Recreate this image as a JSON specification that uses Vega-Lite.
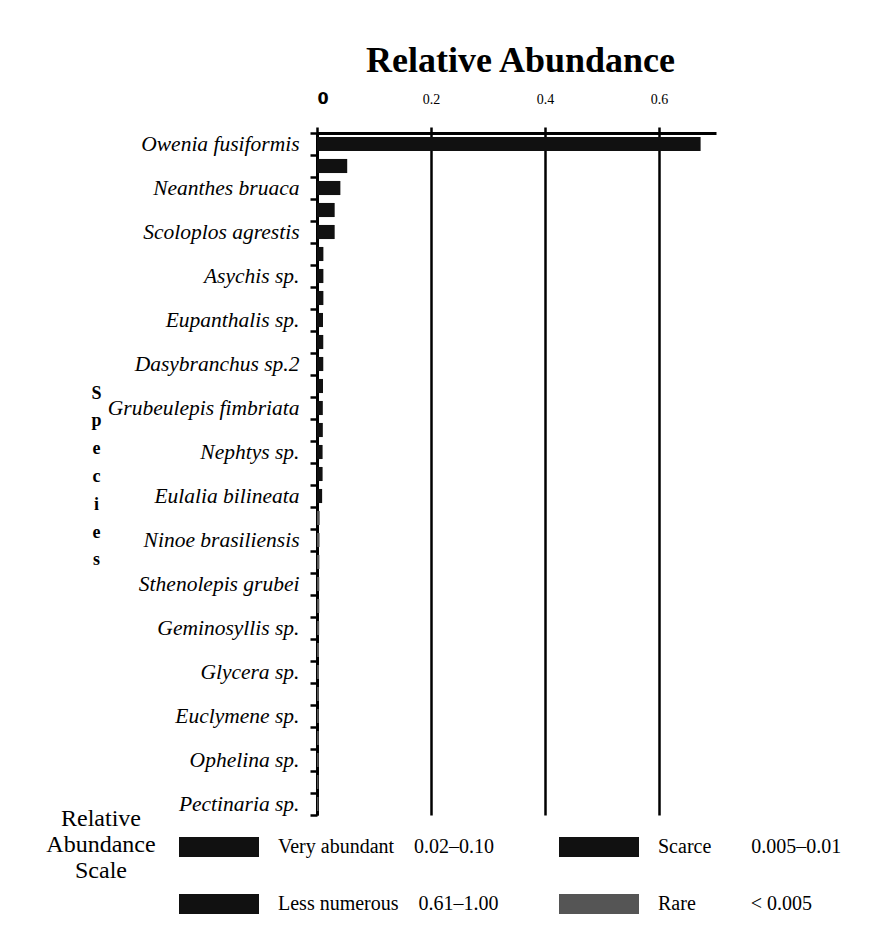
{
  "$schema": "https://vega.github.io/schema/vega-lite/v6.json",
  "autosize": {"type": "none"},
  "width": 399,
  "height": 682,
  "padding": {"left": 317, "top": 133, "right": 173, "bottom": 118},
  "background": "white",
  "title": {
    "text": "Relative Abundance",
    "font": "Liberation Serif",
    "fontSize": 36,
    "fontWeight": "bold",
    "color": "#000",
    "anchor": "middle",
    "dx": 4,
    "dy": 34,
    "baseline": "alphabetic",
    "offset": 16
  },
  "data": {
    "values": [
      {"rank": 1, "species": "Owenia fusiformis", "abundance": 0.673, "class": "Less numerous"},
      {"rank": 2, "species": " ", "abundance": 0.053, "class": "Very abundant"},
      {"rank": 3, "species": "Neanthes bruaca", "abundance": 0.041, "class": "Very abundant"},
      {"rank": 4, "species": "  ", "abundance": 0.031, "class": "Very abundant"},
      {"rank": 5, "species": "Scoloplos agrestis", "abundance": 0.031, "class": "Very abundant"},
      {"rank": 6, "species": "   ", "abundance": 0.0112, "class": "Scarce"},
      {"rank": 7, "species": "Asychis sp.", "abundance": 0.0112, "class": "Scarce"},
      {"rank": 8, "species": "    ", "abundance": 0.0112, "class": "Scarce"},
      {"rank": 9, "species": "Eupanthalis sp.", "abundance": 0.0105, "class": "Scarce"},
      {"rank": 10, "species": "     ", "abundance": 0.011, "class": "Scarce"},
      {"rank": 11, "species": "Dasybranchus sp.2", "abundance": 0.011, "class": "Scarce"},
      {"rank": 12, "species": "      ", "abundance": 0.0105, "class": "Scarce"},
      {"rank": 13, "species": "Grubeulepis fimbriata", "abundance": 0.0102, "class": "Scarce"},
      {"rank": 14, "species": "       ", "abundance": 0.0102, "class": "Scarce"},
      {"rank": 15, "species": "Nephtys sp.", "abundance": 0.0098, "class": "Scarce"},
      {"rank": 16, "species": "        ", "abundance": 0.0098, "class": "Scarce"},
      {"rank": 17, "species": "Eulalia bilineata", "abundance": 0.009, "class": "Scarce"},
      {"rank": 18, "species": "         ", "abundance": 0.0048, "class": "Rare"},
      {"rank": 19, "species": "Ninoe brasiliensis", "abundance": 0.0045, "class": "Rare"},
      {"rank": 20, "species": "          ", "abundance": 0.0042, "class": "Rare"},
      {"rank": 21, "species": "Sthenolepis grubei", "abundance": 0.004, "class": "Rare"},
      {"rank": 22, "species": "           ", "abundance": 0.004, "class": "Rare"},
      {"rank": 23, "species": "Geminosyllis sp.", "abundance": 0.0038, "class": "Rare"},
      {"rank": 24, "species": "            ", "abundance": 0.0035, "class": "Rare"},
      {"rank": 25, "species": "Glycera sp.", "abundance": 0.0035, "class": "Rare"},
      {"rank": 26, "species": "             ", "abundance": 0.0033, "class": "Rare"},
      {"rank": 27, "species": "Euclymene sp.", "abundance": 0.003, "class": "Rare"},
      {"rank": 28, "species": "              ", "abundance": 0.003, "class": "Rare"},
      {"rank": 29, "species": "Ophelina sp.", "abundance": 0.0028, "class": "Rare"},
      {"rank": 30, "species": "               ", "abundance": 0.0025, "class": "Rare"},
      {"rank": 31, "species": "Pectinaria sp.", "abundance": 0.0025, "class": "Rare"}
    ]
  },
  "mark": {"type": "bar", "height": {"band": 0.64}},
  "encoding": {
    "y": {
      "field": "species",
      "type": "nominal",
      "sort": {"field": "rank", "op": "min", "order": "ascending"},
      "scale": {"paddingInner": 0, "paddingOuter": 0},
      "axis": {
        "title": ["S", "p", "e", "c", "i", "e", "s"],
        "titleAngle": 0,
        "titleFont": "Liberation Serif",
        "titleFontSize": 18,
        "titleFontWeight": "bold",
        "titleColor": "#000",
        "titleLineHeight": 27.8,
        "titleAlign": "center",
        "titleBaseline": "alphabetic",
        "titleX": -221,
        "titleY": 265,
        "labelFont": "Liberation Serif",
        "labelFontStyle": "italic",
        "labelFontSize": 21.5,
        "labelColor": "#000",
        "labelPadding": 11,
        "labelLimit": 300,
        "tickBand": "extent",
        "tickSize": 7,
        "tickWidth": 2.5,
        "tickColor": "#000",
        "domainColor": "#000",
        "domainWidth": 3,
        "grid": false
      }
    },
    "x": {
      "field": "abundance",
      "type": "quantitative",
      "scale": {"domain": [0, 0.7], "nice": false},
      "axis": {
        "orient": "top",
        "values": [0, 0.2, 0.4, 0.6],
        "title": null,
        "grid": true,
        "gridColor": "#000",
        "gridWidth": 2.5,
        "gridOpacity": 1,
        "domainColor": "#000",
        "domainWidth": 3,
        "tickColor": "#000",
        "tickWidth": 2.5,
        "tickSize": 6,
        "labelPadding": 21,
        "labelExpr": "datum.value == 0 ? '0' : format(datum.value, '.1f')",
        "labelFont": {"condition": {"test": "datum.value == 0", "value": "DejaVu Sans"}, "value": "Liberation Serif"},
        "labelFontWeight": {"condition": {"test": "datum.value == 0", "value": "bold"}, "value": "normal"},
        "labelFontSize": {"condition": {"test": "datum.value == 0", "value": 16}, "value": 14},
        "labelColor": "#000"
      }
    },
    "color": {
      "field": "class",
      "type": "nominal",
      "scale": {
        "domain": ["Very abundant", "Scarce", "Less numerous", "Rare"],
        "range": ["#111111", "#111111", "#111111", "#555555"]
      },
      "legend": {
        "orient": "none",
        "legendX": -271,
        "legendY": 674,
        "direction": "horizontal",
        "columns": 2,
        "title": ["Relative", "Abundance", "Scale"],
        "titleOrient": "left",
        "titleAnchor": "start",
        "titleFont": "Liberation Serif",
        "titleFontSize": 24,
        "titleFontWeight": "normal",
        "titleColor": "#000",
        "titleAlign": "center",
        "titleBaseline": "top",
        "titleLineHeight": 26,
        "titlePadding": -32,
        "titleLimit": 300,
        "symbolType": "M-1,-0.25H1V0.25H-1Z",
        "symbolSize": 6400,
        "symbolStrokeWidth": 0,
        "symbolOpacity": 1,
        "labelFont": "Liberation Serif",
        "labelFontSize": 20,
        "labelColor": "#000",
        "labelOffset": 19,
        "labelLimit": 400,
        "labelExpr": "datum.label == 'Very abundant' ? 'Very abundant\u00a0\u00a0\u00a0\u00a00.02–0.10' : datum.label == 'Less numerous' ? 'Less numerous\u00a0\u00a0\u00a0\u00a00.61–1.00' : datum.label == 'Scarce' ? 'Scarce\u00a0\u00a0\u00a0\u00a0\u00a0\u00a0\u00a0\u00a00.005–0.01' : 'Rare\u00a0\u00a0\u00a0\u00a0\u00a0\u00a0\u00a0\u00a0\u00a0\u00a0\u00a0< 0.005'",
        "columnPadding": 60,
        "rowPadding": 7
      }
    }
  },
  "config": {
    "font": "Liberation Serif",
    "view": {"stroke": null},
    "legend": {"titleFont": "Liberation Serif", "labelFont": "Liberation Serif"}
  }
}
